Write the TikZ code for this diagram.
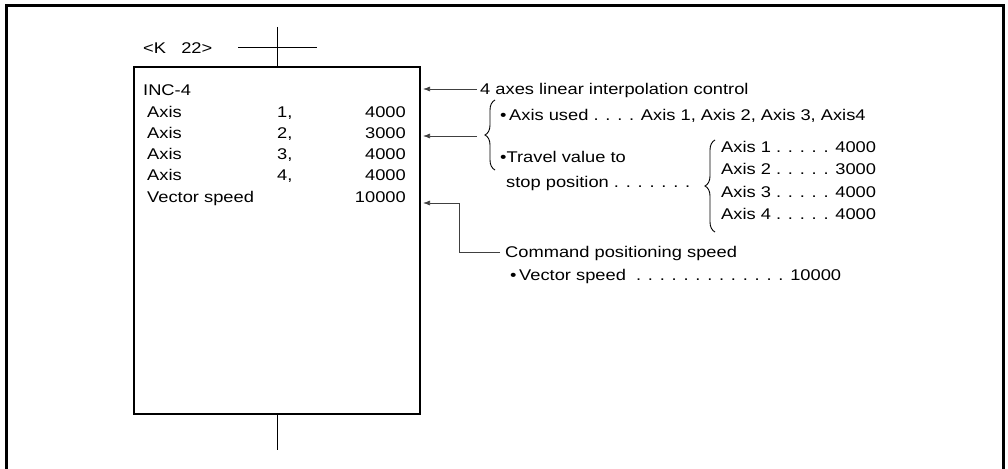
\documentclass[tikz,border=0pt]{standalone}
\usepackage{fontspec}
\setmainfont{Liberation Sans}[FakeStretch=1.18]
\usetikzlibrary{arrows.meta,decorations.pathreplacing}
\begin{document}
\begin{tikzpicture}[x=1pt,y=-1pt,
  txt/.style={anchor=base west,inner sep=0pt,font=\fontsize{15.5}{17}\selectfont},
  txr/.style={anchor=base east,inner sep=0pt,font=\fontsize{15.5}{17}\selectfont},
  conn/.style={line width=0.7pt,draw=black!75},
  arr/.style={conn,-{Latex[length=7pt,width=5pt]}},
  brc/.style={line width=0.9pt,decorate,decoration={brace,amplitude=10pt}}]
\useasboundingbox (0,0) rectangle (1008,468);
% outer frame
\draw[line width=3pt] (6,470) -- (6,6) -- (1003,6) -- (1003,470);
% main box
\node[draw,line width=1.3pt,minimum width=286pt,minimum height=347pt,inner sep=0pt] (box) at (277,240.5) {};
\coordinate (ctop) at (277,27);
\coordinate (cbot) at (277,450);
\coordinate (hl) at (238,47);
\coordinate (hr) at (317,47);
\draw[line width=0.9pt] (ctop) -- (box.north);
\draw[line width=0.9pt] (hl) -- (hr);
\draw[line width=0.9pt] (box.south) -- (cbot);
\node[txt] (k) at (143,53.5) {<K\ \ \ 22>};
% box contents
\node[txt] (inc) at (143,95.5) {INC-4};
\node[txt] (a1) at (147,117.5) {Axis};
\node[txt] (n1) at (277,117.5) {1,};
\node[txr] (v1) at (406,117.5) {4000};
\node[txt] (a2) at (147,138.5) {Axis};
\node[txt] (n2) at (277,138.5) {2,};
\node[txr] (v2) at (406,138.5) {3000};
\node[txt] (a3) at (147,159.5) {Axis};
\node[txt] (n3) at (277,159.5) {3,};
\node[txr] (v3) at (406,159.5) {4000};
\node[txt] (a4) at (147,180.5) {Axis};
\node[txt] (n4) at (277,180.5) {4,};
\node[txr] (v4) at (406,180.5) {4000};
\node[txt] (vs) at (147,202.5) {Vector speed};
\node[txr] (vv) at (406,202.5) {10000};
% right side labels
\node[txt] (t1) at (480,94.5) {4 axes linear interpolation control};
\node[txt] (u1) at (500,120.5) {•\,Axis used . . . . Axis 1, Axis 2, Axis 3, Axis4};
\node[txt] (u2) at (500,162.5) {•Travel value to};
\node[txt] (u3) at (506,187.5) {stop position . . . . . . .};
\node[txt] (r1) at (721,152.5) {Axis 1 . . . . . 4000};
\node[txt] (r2) at (721,174.5) {Axis 2 . . . . . 3000};
\node[txt] (r3) at (721,197.5) {Axis 3 . . . . . 4000};
\node[txt] (r4) at (721,219.5) {Axis 4 . . . . . 4000};
\node[txt] (c1) at (505,257.5) {Command positioning speed};
\node[txt] (c2) at (510,280.5) {•\,Vector speed \ . . . . . . . . . . . . . 10000};
% braces
\coordinate (b1a) at (495,170);
\coordinate (b1b) at (495,100);
\draw[brc] (b1a) -- (b1b);
\coordinate (b2a) at (715,232);
\coordinate (b2b) at (715,140);
\draw[brc] (b2a) -- (b2b);
% arrows
\coordinate (e1) at (423,89);
\coordinate (s1) at (477,89);
\draw[arr] (s1) -- (e1);
\coordinate (e2) at (423,136);
\coordinate (s2) at (477,136);
\draw[arr] (s2) -- (e2);
\coordinate (e3) at (423,203);
\coordinate (s3) at (500,252);
\draw[arr] (s3) -| (459,203) -- (e3);
\end{tikzpicture}
\end{document}
